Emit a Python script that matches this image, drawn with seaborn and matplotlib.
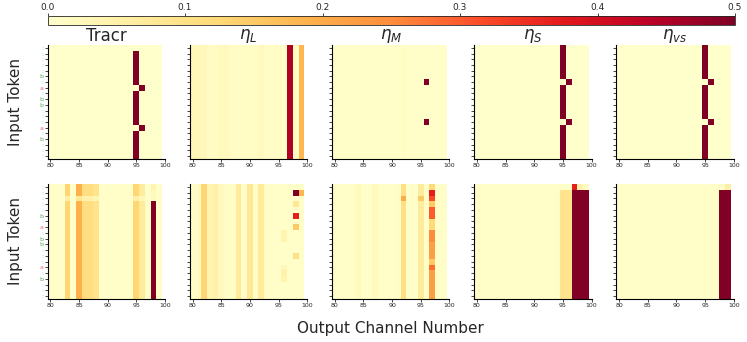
import numpy as np
import pandas as pd
import matplotlib
matplotlib.use("Agg")
import matplotlib.pyplot as plt
import seaborn as sns

sns.set_style("ticks")

# Output channels 80..99, 20 input tokens
channels = list(range(80, 100))
n_tokens = 20
token_labels = [":", ":", ":", ":", ":", "b", ":", "a", ":", "b",
                "b", ":", ":", ":", "a", ":", "b", ":", ":", ":"]
label_colors = {"a": "#f26d6d", "b": "#5aa85a", ":": "#5cc6d6"}

titles = ["Tracr", r"$\eta_L$", r"$\eta_M$", r"$\eta_S$", r"$\eta_{vs}$"]

# --- top row: column profiles (value per channel) plus cell overrides (row, col, value)
tracr_top_cols = [0.0] * 15 + [0.5, 0.0, 0.0, 0.0, 0.0]
tracr_top_cells = [(0, 15, 0.0), (7, 15, 0.0), (7, 16, 0.5), (14, 15, 0.0), (14, 16, 0.5)]

etaL_top_cols = [0.03, 0.03, 0.028, 0.015, 0.015, 0.02, 0.02, 0.01, 0.01, 0.01,
                 0.012, 0.012, 0.02, 0.01, 0.01, 0.01, 0.01, 0.45, 0.01, 0.18]
etaL_top_cells = []

etaM_top_cols = [0.005] * 12 + [0.012] + [0.005] * 7
etaM_top_cells = [(6, 16, 0.5), (13, 16, 0.5)]

etaS_top_cols = [0.0] * 15 + [0.5, 0.0, 0.0, 0.0, 0.0]
etaS_top_cells = [(6, 15, 0.0), (6, 16, 0.5), (13, 15, 0.0), (13, 16, 0.5)]

etavs_top_cols = [0.0] * 15 + [0.5, 0.0, 0.0, 0.0, 0.0]
etavs_top_cells = [(6, 15, 0.0), (6, 16, 0.5), (13, 15, 0.0), (13, 16, 0.5)]

# --- bottom row
tracr_bot_cols = [0.005, 0.005, 0.005, 0.13, 0.005, 0.19, 0.11, 0.11, 0.09, 0.005,
                  0.005, 0.005, 0.005, 0.005, 0.005, 0.13, 0.07, 0.005, 0.5, 0.005]
tracr_bot_cells = [(0, 18, 0.04), (1, 18, 0.02), (2, 18, 0.02),
                   (2, 3, 0.06), (2, 5, 0.08), (2, 6, 0.05), (2, 7, 0.05), (2, 8, 0.04),
                   (2, 15, 0.06), (2, 16, 0.03)]

etaL_bot_cols = [0.01, 0.015, 0.13, 0.04, 0.05, 0.02, 0.01, 0.01, 0.07, 0.01,
                 0.08, 0.01, 0.07, 0.01, 0.005, 0.005, 0.005, 0.005, 0.005, 0.005]
etaL_bot_cells = [(1, 18, 0.5), (1, 19, 0.18), (3, 18, 0.08), (5, 18, 0.37),
                  (7, 18, 0.15), (12, 18, 0.1), (8, 16, 0.04), (9, 16, 0.04),
                  (14, 16, 0.03), (15, 16, 0.05), (16, 16, 0.04)]

etaM_bot_cols = [0.005, 0.005, 0.005, 0.005, 0.02, 0.005, 0.005, 0.02, 0.005, 0.005,
                 0.005, 0.01, 0.1, 0.005, 0.005, 0.07, 0.005, 0.22, 0.005, 0.005]
etaM_bot_cells = [(0, 17, 0.12), (1, 17, 0.37), (2, 17, 0.32), (2, 12, 0.2), (2, 15, 0.15),
                  (3, 17, 0.15), (4, 17, 0.3), (5, 17, 0.3), (6, 17, 0.12), (7, 17, 0.12),
                  (8, 17, 0.25), (9, 17, 0.25), (13, 17, 0.15), (14, 17, 0.28)]

etaS_bot_cols = [0.005] * 14 + [0.01, 0.09, 0.09, 0.5, 0.5, 0.5]
etaS_bot_cells = [(0, 14, 0.005), (0, 15, 0.005), (0, 16, 0.005), (0, 17, 0.37),
                  (0, 18, 0.05), (0, 19, 0.01)]

etavs_bot_cols = [0.005] * 18 + [0.5, 0.5]
etavs_bot_cells = [(0, 18, 0.01), (0, 19, 0.06)]

top_panels = [(tracr_top_cols, tracr_top_cells), (etaL_top_cols, etaL_top_cells),
              (etaM_top_cols, etaM_top_cells), (etaS_top_cols, etaS_top_cells),
              (etavs_top_cols, etavs_top_cells)]
bottom_panels = [(tracr_bot_cols, tracr_bot_cells), (etaL_bot_cols, etaL_bot_cells),
                 (etaM_bot_cols, etaM_bot_cells), (etaS_bot_cols, etaS_bot_cells),
                 (etavs_bot_cols, etavs_bot_cells)]


def build_frame(cols, cells):
    mat = np.tile(np.array(cols, dtype=float), (n_tokens, 1))
    for r, c, v in cells:
        mat[r, c] = v
    return pd.DataFrame(mat, columns=channels)


fig = plt.figure(figsize=(7.47, 3.42), dpi=100)
W, H = 747, 342
cmap = "YlOrRd"
vmin, vmax = 0.0, 0.5

row_y = [(45, 159), (184, 299)]
for row, panels in enumerate([top_panels, bottom_panels]):
    y0, y1 = row_y[row]
    for i, (cols, cells) in enumerate(panels):
        left = 47.5 + 142.2 * i
        ax = fig.add_axes([left / W, 1 - y1 / H, 117.5 / W, (y1 - y0) / H])
        df = build_frame(cols, cells)
        sns.heatmap(df, ax=ax, cmap=cmap, vmin=vmin, vmax=vmax, cbar=False,
                    xticklabels=False, yticklabels=False)
        ax.set_xlim(0, 20.5)
        ax.set_ylim(20, 0)
        ax.set_xticks(np.arange(0, 21, 5) + 0.5)
        ax.set_xticklabels([80, 85, 90, 95, 100], fontsize=4.5)
        ax.set_yticks(np.arange(n_tokens) + 0.5)
        if i == 0:
            ax.set_yticklabels(token_labels, fontsize=4.5, rotation=0)
            for t, lab in zip(ax.get_yticklabels(), token_labels):
                t.set_color(label_colors[lab])
        else:
            ax.set_yticklabels([])
        ax.tick_params(axis="both", length=2, width=0.6, pad=1)
        ax.set_xlabel("")
        ax.set_ylabel("")
        for side in ["left", "bottom"]:
            ax.spines[side].set_visible(True)
            ax.spines[side].set_linewidth(0.8)
            ax.spines[side].set_color("black")
        for side in ["top", "right"]:
            ax.spines[side].set_visible(False)
        if row == 0:
            ax.set_title(titles[i], fontsize=12, pad=1)

# colorbar on top
cax = fig.add_axes([47.5 / W, 1 - 25 / H, (735 - 47.5) / W, 9 / H])
sm = plt.cm.ScalarMappable(cmap=cmap, norm=plt.Normalize(vmin, vmax))
cb = fig.colorbar(sm, cax=cax, orientation="horizontal")
cb.set_ticks([0.0, 0.1, 0.2, 0.3, 0.4, 0.5])
cax.xaxis.set_ticks_position("top")
cax.tick_params(labelsize=6.5, length=2, width=0.6, pad=1)
cb.outline.set_linewidth(0.6)

fig.text(16 / W, 1 - 102 / H, "Input Token", rotation=90, fontsize=11, ha="center", va="center")
fig.text(16 / W, 1 - 241 / H, "Input Token", rotation=90, fontsize=11, ha="center", va="center")
fig.text(390 / W, 1 - 328 / H, "Output Channel Number", fontsize=11, ha="center", va="center")

fig.savefig("out.png", dpi=100)
